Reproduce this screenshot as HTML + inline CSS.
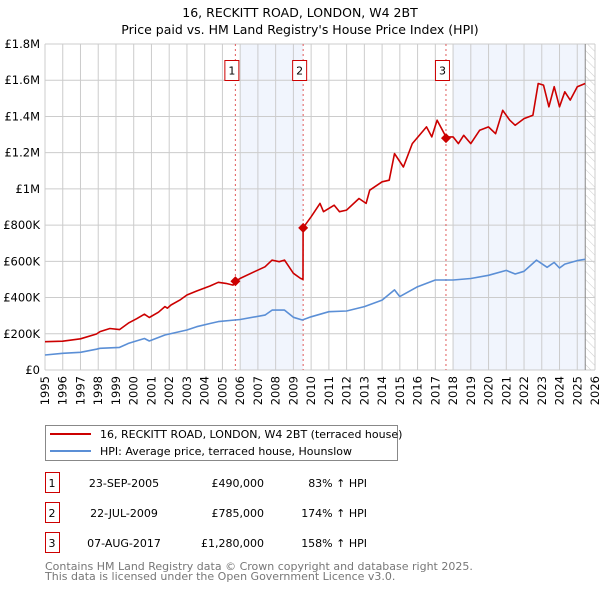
<!DOCTYPE html>
<html><head><meta charset="utf-8"><style>
body{margin:0;background:#fff;font-family:"Liberation Sans","DejaVu Sans",sans-serif}
svg text{font-family:"DejaVu Sans","Liberation Sans",sans-serif}
</style></head><body>
<svg id="chart" width="600" height="590" viewBox="0 0 600 590" xmlns="http://www.w3.org/2000/svg">
<defs>
<pattern id="hatch" width="6" height="6" patternUnits="userSpaceOnUse" patternTransform="rotate(-45)">
<line x1="0" y1="0" x2="0" y2="6" stroke="#ccc" stroke-width="1"/></pattern>
</defs>
<text x="300" y="17" text-anchor="middle" font-size="12.5">16, RECKITT ROAD, LONDON, W4 2BT</text>
<text x="300" y="34" text-anchor="middle" font-size="12.5">Price paid vs. HM Land Registry's House Price Index (HPI)</text>
<g id="plot"></g>
<g>
<rect x="45.5" y="425.5" width="352" height="35" fill="#fff" stroke="#888"/>
<line x1="50" y1="434" x2="91" y2="434" stroke="#cc0000" stroke-width="2"/>
<text x="100" y="438" font-size="11">16, RECKITT ROAD, LONDON, W4 2BT (terraced house)</text>
<line x1="50" y1="451" x2="91" y2="451" stroke="#5b8fd6" stroke-width="2"/>
<text x="100" y="455" font-size="11">HPI: Average price, terraced house, Hounslow</text>
</g>
<g id="table" font-size="11"></g>
<text x="45" y="570" font-size="11" fill="#777">Contains HM Land Registry data © Crown copyright and database right 2025.</text>
<text x="45" y="580" font-size="11" fill="#777">This data is licensed under the Open Government Licence v3.0.</text>
</svg>
<script>
const hpiYears=[1995,1996,1997,1997.9,1998.1,1999.2,1999.7,2000.6,2000.88,2001.76,2003,2003.55,2004.3,2004.77,2006,2007.4,2007.8,2008.5,2009,2009.5,2010,2011,2012,2013,2014,2014.7,2015,2016,2017,2018,2019,2020,2021,2021.5,2022,2022.7,2023.3,2023.7,2024,2024.3,2025,2025.45];
const hpiValues=[83,92,98,115,120,125,147,174,160,193,221,239,257,267,279,303,331,331,291,276,294,322,326,350,386,442,405,460,497,497,505,523,550,530,545,607,567,594,563,585,604,611];
const propYears=[1995,1996,1997,1997.9,1998.1,1998.66,1999.2,1999.7,2000.17,2000.6,2000.88,2001.4,2001.76,2001.9,2002.1,2002.6,2003,2003.55,2004.3,2004.77,2005.2,2005.6,2005.73,2006,2006.8,2007.4,2007.8,2008.2,2008.5,2009,2009.4,2009.54,2009.55,2010,2010.5,2010.7,2011.3,2011.6,2012,2012.7,2013.1,2013.3,2014,2014.4,2014.7,2015.2,2015.7,2016.5,2016.8,2017.1,2017.6,2018,2018.3,2018.6,2019,2019.5,2020,2020.4,2020.8,2021.2,2021.5,2022,2022.5,2022.8,2023.1,2023.4,2023.7,2024,2024.3,2024.6,2025,2025.45];
const propValues=[156,159,172,199,212,229,223,259,283,308,290,319,350,341,359,386,414,436,464,484,478,469,490,506,543,570,607,598,607,534,506,500,785,846,920,874,910,874,883,947,920,993,1039,1048,1195,1121,1250,1342,1287,1379,1287,1287,1250,1296,1250,1324,1342,1305,1434,1379,1351,1388,1407,1582,1573,1453,1564,1453,1536,1490,1564,1582];
const saleYears=[2005.73,2009.55,2017.6];
const saleValues=[490,785,1280];
const saleLabels=["1","2","3"];
const saleDates=["23-SEP-2005","22-JUL-2009","07-AUG-2017"];
const salePrices=["£490,000","£785,000","£1,280,000"];
const saleHpi=["83% ↑ HPI","174% ↑ HPI","158% ↑ HPI"];
const yTicks=[0,200,400,600,800,1000,1200,1400,1600,1800];
const yTickLabels=["£0","£200K","£400K","£600K","£800K","£1M","£1.2M","£1.4M","£1.6M","£1.8M"];
const xTicks=[];for(let y=1995;y<=2026;y++)xTicks.push(y);

const X0=45,X1=595,Y0=370,Y1=44;
const xs=t=>X0+(t-1995)/31*(X1-X0);
const ys=v=>Y0-v/1800*(Y0-Y1);
const NS="http://www.w3.org/2000/svg";
const g=document.getElementById('plot');
function el(tag,attrs,parent){const e=document.createElementNS(NS,tag);for(const k in attrs)e.setAttribute(k,attrs[k]);(parent||g).appendChild(e);return e;}

let r=el('rect',{x:xs(2006),y:Y1,width:xs(saleYears[1])-xs(2006),height:Y0-Y1,fill:'#eef3fc',opacity:0.8});


r=el('rect',{x:xs(2018),y:Y1,width:xs(2025.45)-xs(2018),height:Y0-Y1,fill:'#eef3fc',opacity:0.8});


r=el('rect',{x:xs(2025.45),y:Y1,width:X1-xs(2025.45),height:Y0-Y1,fill:'url(#hatch)'});



yTicks.forEach((v,i)=>{
 const l=el('line',{x1:X0,x2:X1,y1:ys(v),y2:ys(v),stroke:'#ccc','stroke-width':1});
 
 
 const t=el('text',{x:X0-5,y:ys(v)+4,'text-anchor':'end','font-size':11.5});
 t.textContent=yTickLabels[i];
 
 
});
xTicks.forEach(y=>{
 const l=el('line',{x1:xs(y),x2:xs(y),y1:Y1,y2:Y0,stroke:'#ccc','stroke-width':1});
 
 
 const t=el('text',{x:0,y:0,'text-anchor':'end','font-size':11.5,transform:`translate(${xs(y)+4},${Y0+6}) rotate(-90)`});
 t.textContent=y;
 
 
});
let bl=el('line',{x1:xs(2025.45),x2:xs(2025.45),y1:Y1,y2:Y0,stroke:'#888','stroke-width':1});



saleYears.forEach((s,i)=>{
 const l=el('line',{x1:xs(s),x2:xs(s),y1:Y1,y2:Y0,stroke:'#e05a5a','stroke-width':1,'stroke-dasharray':'2,3'});
 
 
});

function path(years,vals,color,name){
 let d='';years.forEach((t,i)=>{d+=(i?'L':'M')+xs(t).toFixed(1)+','+ys(vals[i]).toFixed(1);});
 const p=el('path',{d:d,fill:'none',stroke:color,'stroke-width':1.6,'stroke-linejoin':'round'});
 
 
}
path(hpiYears,hpiValues,'#5b8fd6','hpi-line');
path(propYears,propValues,'#cc0000','property-price-line');

saleYears.forEach((s,i)=>{
 const cx=xs(s),cy=ys(saleValues[i]);
 const d=el('path',{d:`M${cx},${cy-5}L${cx+5},${cy}L${cx},${cy+5}L${cx-5},${cy}Z`,fill:'#cc0000'});
 
 
 const b=el('rect',{x:cx-10.5,y:60.5,width:14,height:20,fill:'#fff',stroke:'#cc0000'});
 
 
 const t=el('text',{x:cx-3.5,y:74.5,'text-anchor':'middle','font-size':11});
 t.textContent=saleLabels[i];
 
 
});

const tb=document.getElementById('table');
saleLabels.forEach((lab,i)=>{
 const cy=483+i*30;
 const b=el('rect',{x:45.5,y:cy-10.5,width:14,height:20,fill:'#fff',stroke:'#cc0000'},tb);
 
 
 const cells=[[lab,52,'middle'],[saleDates[i],124,'middle'],[salePrices[i],264,'end'],[saleHpi[i],367,'end']];
 cells.forEach(c=>{
  const t=el('text',{x:c[1],y:cy+4,'text-anchor':c[2]},tb);
  t.textContent=c[0];
  
  
 });
});
</script>
</body></html>
